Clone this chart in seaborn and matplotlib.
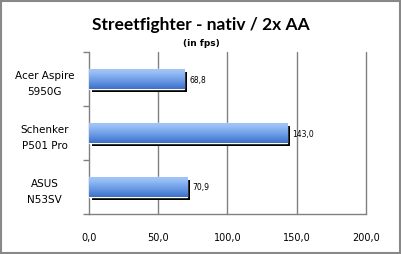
import matplotlib
matplotlib.use("Agg")
import matplotlib.pyplot as plt
import seaborn as sns
import numpy as np
import pandas as pd
from matplotlib.patches import Rectangle
from matplotlib.transforms import ScaledTranslation
from matplotlib.colors import LinearSegmentedColormap

categories = ["Acer Aspire\n5950G", "Schenker\nP501 Pro", "ASUS\nN53SV"]
values = [68.8, 143.0, 70.9]
xticks = [0, 50, 100, 150, 200]
title = "Streetfighter - nativ / 2x AA"
subtitle = "(in fps)"

df = pd.DataFrame({"device": categories, "fps": values})

sns.set_style("white")
plt.rcParams['font.family'] = ['DejaVu Sans']
plt.rcParams['text.color'] = 'black'
plt.rcParams['xtick.color'] = 'black'
plt.rcParams['ytick.color'] = 'black'

fig = plt.figure(figsize=(4.02, 2.55), dpi=100)
ax = fig.add_axes([89/402, 1-215/255, 277/402, 162/255])

sns.barplot(data=df, x="fps", y="device", orient="h", color="#5b8fe0",
            width=0.38, ax=ax, zorder=3)

ax.set_xlim(0, 200)
ylim = ax.get_ylim()
xlim = ax.get_xlim()

off = ScaledTranslation(3/100, -3/100, fig.dpi_scale_trans)
grad = np.linspace(0, 1, 64).reshape(-1, 1)
cmap = LinearSegmentedColormap.from_list(
    "g", ["#a6c8fa", "#98bef6", "#80acee", "#6a9ae4", "#5286da", "#3e70c6"])
for p in list(ax.patches):
    x, y, w, h = p.get_x(), p.get_y(), p.get_width(), p.get_height()
    sh = Rectangle((x, y), w, h, facecolor="black", edgecolor="none",
                   transform=ax.transData + off, zorder=2)
    ax.add_patch(sh)
    im = ax.imshow(grad, extent=(x, x + w, y + h, y), origin="upper",
                   aspect="auto", cmap=cmap, zorder=3.5)
    im.set_clip_path(p)
    ax.text(x + w + 4, y + h / 2, f"{w:.1f}".replace(".", ","),
            va="center", ha="left", fontsize=5.5, color="black", zorder=5)

ax.set_xlim(xlim)
ax.set_ylim(ylim)

ax.set_xticks(xticks)
ax.set_xticklabels([f"{v:.1f}".replace(".", ",") for v in xticks], fontsize=7)
ax.set_yticks(range(len(categories)))
ax.set_yticklabels(categories, fontsize=7.5, multialignment="center",
                   ha="center", linespacing=1.75)
ax.tick_params(axis="y", which="major", length=0, pad=32)
ax.tick_params(axis="x", which="major", length=3, color="#808080", pad=10,
               direction="out")
ax.set_yticks([-0.5, 0.5, 1.5, 2.5], minor=True)
ax.tick_params(axis="y", which="minor", left=True, length=4, width=1,
               color="#808080", direction="out")
ax.set_xlabel("")
ax.set_ylabel("")

for v in xticks[1:]:
    ax.axvline(v, color="#808080", lw=1, zorder=1, clip_on=False)
for s in ["top", "right"]:
    ax.spines[s].set_visible(False)
for s in ["left", "bottom"]:
    ax.spines[s].set_color("#808080")
    ax.spines[s].set_linewidth(1)

fig.text(0.5, 1 - 25/255, title, ha="center", va="center",
         fontsize=12.5, fontweight="bold", family=["Lato", "DejaVu Sans"])
fig.text(0.5, 1 - 43/255, subtitle, ha="center", va="center",
         fontsize=6.5, fontweight="bold")

fig.patches.append(Rectangle((1.5/402, 1.5/255), 1 - 3/402, 1 - 3/255,
                             transform=fig.transFigure, fill=False,
                             edgecolor="#888888", linewidth=1.5))

fig.savefig("out.png", dpi=100)
